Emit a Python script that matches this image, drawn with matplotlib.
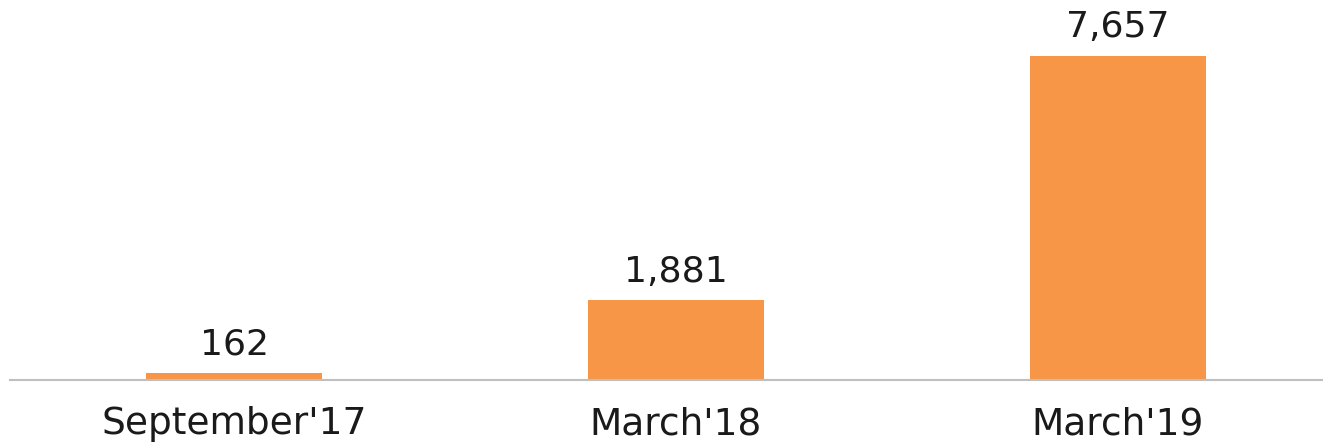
import matplotlib
matplotlib.use("Agg")
import matplotlib.pyplot as plt

categories = ["September'17", "March'18", "March'19"]
values = [162, 1881, 7657]
labels = ["162", "1,881", "7,657"]

fig = plt.figure(figsize=(13.23, 4.46), dpi=100)
fig.set_facecolor('w')
ax = fig.add_axes([10 / 1323, 66 / 446, 1 - 10 / 1323, 380 / 446])

x = range(len(categories))
ax.bar(x, values, width=0.4, color='#F79646')

for xi, v, t in zip(x, values, labels):
    ax.text(xi, v + 280, t, ha='center', va='bottom', fontsize=26,
            color='#1a1a1a')

ax.set_xlim(-0.507, 2.464)
ax.set_ylim(0, 8980)
ax.set_xticks(list(x))
ax.set_xticklabels(categories, fontsize=27, color='#1a1a1a')
ax.tick_params(axis='x', length=0, pad=19)
ax.set_yticks([])

for s in ['top', 'right', 'left']:
    ax.spines[s].set_visible(False)
ax.spines['bottom'].set_color('#BFBFBF')
ax.spines['bottom'].set_linewidth(1.5)

fig.savefig('out.png', dpi=100)
